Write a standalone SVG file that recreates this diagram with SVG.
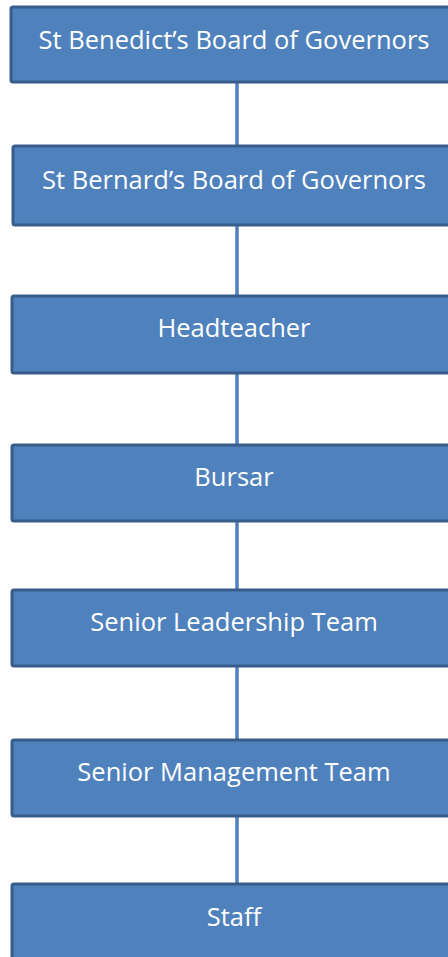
<svg xmlns="http://www.w3.org/2000/svg" width="448" height="957" viewBox="0 0 448 957">
<style>
.box{fill:#4F81BD;stroke:#385D8A;stroke-width:3}
.lbl{fill:#FFFFFF;font-family:"Open Sans","Liberation Sans",sans-serif;font-size:25.5px;text-anchor:middle}
.con{stroke:#4F81BD;stroke-width:3.5;fill:none}
</style>
<rect width="448" height="957" fill="#FFFFFF"/>
<g id="connectors">
<line class="con" x1="237" y1="82" x2="237" y2="145"/>
<line class="con" x1="237" y1="225" x2="237" y2="296"/>
<line class="con" x1="237" y1="373" x2="237" y2="445"/>
<line class="con" x1="237" y1="521" x2="237" y2="590"/>
<line class="con" x1="237" y1="666" x2="237" y2="740"/>
<line class="con" x1="237" y1="816" x2="237" y2="883"/>
</g>
<g id="n1"><rect class="box" x="11" y="7" width="450" height="75" rx="2"/><text class="lbl" x="234" y="49">St Benedict’s Board of Governors</text></g>
<g id="n2"><rect class="box" x="13" y="146" width="450" height="79" rx="2"/><text class="lbl" x="234" y="189">St Bernard’s Board of Governors</text></g>
<g id="n3"><rect class="box" x="12" y="296" width="450" height="77" rx="2"/><text class="lbl" x="234" y="337">Headteacher</text></g>
<g id="n4"><rect class="box" x="12" y="445" width="450" height="76" rx="2"/><text class="lbl" x="234" y="486">Bursar</text></g>
<g id="n5"><rect class="box" x="12" y="590" width="450" height="76" rx="2"/><text class="lbl" x="234" y="631">Senior Leadership Team</text></g>
<g id="n6"><rect class="box" x="12" y="740" width="450" height="76" rx="2"/><text class="lbl" x="234" y="781">Senior Management Team</text></g>
<g id="n7"><rect class="box" x="12" y="884" width="450" height="90" rx="2"/><text class="lbl" x="234" y="926">Staff</text></g>
</svg>
